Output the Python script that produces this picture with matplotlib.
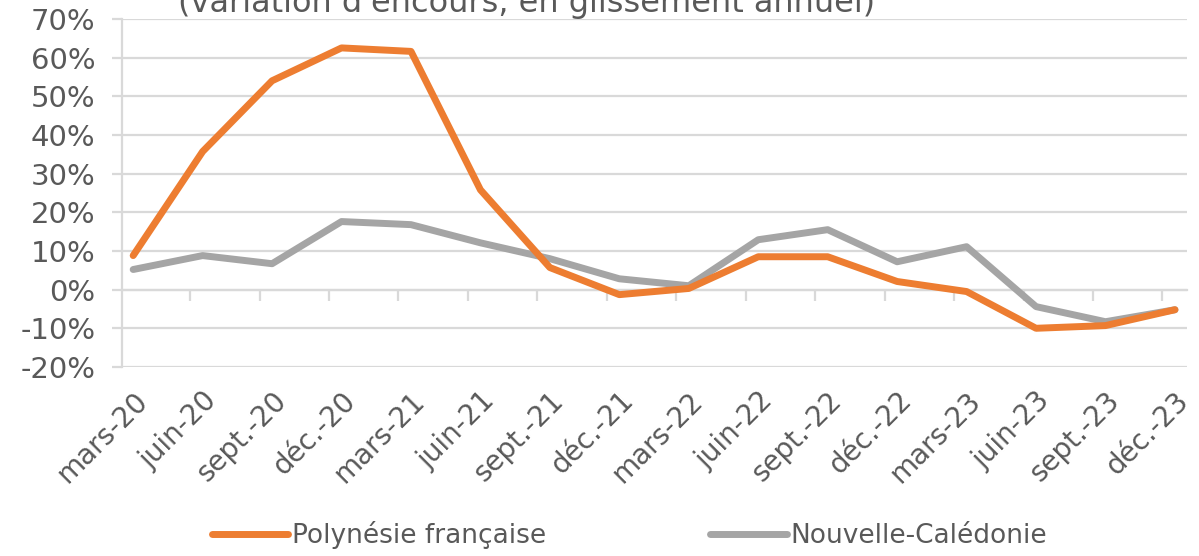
import matplotlib.pyplot as plt
from matplotlib.ticker import FuncFormatter

# Data
periods = ["mars-20", "juin-20", "sept.-20", "déc.-20", "mars-21", "juin-21",
           "sept.-21", "déc.-21", "mars-22", "juin-22", "sept.-22", "déc.-22",
           "mars-23", "juin-23", "sept.-23", "déc.-23"]
polynesie = [8.8, 35.7, 54.0, 62.5, 61.6, 25.8, 5.7, -1.3,
             0.3, 8.5, 8.5, 2.1, -0.5, -10.0, -9.3, -5.2]
caledonie = [5.2, 8.8, 6.7, 17.6, 16.8, 12.1, 8.0, 2.8,
             1.0, 12.9, 15.5, 7.2, 11.1, -4.4, -8.3, -5.2]

ORANGE = "#ED7D31"
GREY = "#A5A5A5"
GRID = "#D9D9D9"
TEXT = "#595959"

fig = plt.figure(figsize=(11.99, 5.56), dpi=100)
ax = fig.add_axes([0.1018, 0.340, 0.888, 0.626])

x = list(range(len(periods)))
ax.plot(x, polynesie, color=ORANGE, lw=5, solid_capstyle="round",
        solid_joinstyle="round", label="Polynésie française", zorder=3)
ax.plot(x, caledonie, color=GREY, lw=5, solid_capstyle="round",
        solid_joinstyle="round", label="Nouvelle-Calédonie", zorder=2)

ax.set_ylim(-20, 70)
ax.set_yticks(range(-20, 71, 10))
ax.yaxis.set_major_formatter(FuncFormatter(lambda v, p: f"{v:.0f}%"))
ax.set_xlim(-0.16, 15.17)

# grid and frame
ax.grid(axis="y", color=GRID, lw=1.6)
ax.set_axisbelow(True)
for side in ["top", "right", "bottom"]:
    ax.spines[side].set_visible(False)
ax.spines["left"].set_color(GRID)
ax.spines["left"].set_linewidth(1.6)
ax.tick_params(axis="y", length=7, width=1.6, color=GRID, labelsize=21,
               labelcolor=TEXT, pad=12)

# category labels at the bottom, no tick marks
ax.set_xticks(x)
ax.set_xticklabels(periods, rotation=45, ha="right", va="top",
                   rotation_mode="anchor")
ax.tick_params(axis="x", length=0, labelsize=20, labelcolor=TEXT, pad=14)

# category axis line sits on 0% with tick marks between categories
sec = ax.secondary_xaxis(20 / 90)
sec.spines["bottom"].set_color(GRID)
sec.spines["bottom"].set_linewidth(1.6)
sec.set_xticks([i - 0.18 for i in range(1, len(periods))])
sec.tick_params(axis="x", length=8, width=1.6, color=GRID, labelbottom=False)

fig.text(0.439, 0.978, "(variation d'encours, en glissement annuel)",
         ha="center", va="baseline", fontsize=23, color=TEXT)

leg = fig.legend(loc="lower center", bbox_to_anchor=(0.525, -0.03), ncol=2,
                 frameon=False, handlelength=2.9, handletextpad=0.15,
                 columnspacing=6.2,
                 prop={"family": ["Liberation Sans Narrow", "DejaVu Sans"],
                       "size": 19})
for t in leg.get_texts():
    t.set_color(TEXT)

fig.savefig("out.png", dpi=100)
